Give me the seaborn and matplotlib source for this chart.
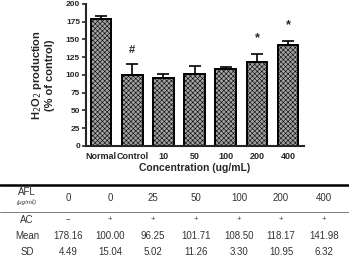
import seaborn as sns
import pandas as pd
import matplotlib.pyplot as plt

groups = ["Normal", "Control", "10", "50", "100", "200", "400"]
afl = ["0", "0", "25", "50", "100", "200", "400"]
ac = ["\u2212", "+", "+", "+", "+", "+", "+"]
mean = [178.16, 100.00, 96.25, 101.71, 108.50, 118.17, 141.98]
sd = [4.49, 15.04, 5.02, 11.26, 3.30, 10.95, 6.32]
marks = ["", "#", "", "", "", "*", "*"]

df = pd.DataFrame({"group": groups, "mean": mean, "sd": sd})

sns.set_style("ticks")
plt.rcParams["font.family"] = ["Liberation Sans", "DejaVu Sans"]
plt.rcParams["hatch.color"] = "#6e6e6e"
plt.rcParams["hatch.linewidth"] = 0.4

fig = plt.figure(figsize=(3.49, 2.57), dpi=100)
ax = fig.add_axes([0.245, 0.432, 0.625, 0.553])

sns.barplot(data=df, x="group", y="mean", color="#a2a2a2", width=0.66,
            edgecolor="black", linewidth=1.4, errorbar=None, ax=ax)
for p in ax.patches:
    p.set_hatch("xxxxxxx")
    p.set_edgecolor("black")

xs = [p.get_x() + p.get_width() / 2 for p in ax.patches]
ax.errorbar(xs, df["mean"], yerr=[[0] * len(sd), df["sd"]], fmt="none",
            ecolor="black", elinewidth=1.2, capsize=4, capthick=1.2, zorder=1)

for x, m, s, t in zip(xs, mean, sd, marks):
    if t == "#":
        ax.text(x, m + s + 20, t, ha="center", va="center", fontsize=8, fontweight="bold")
    elif t:
        ax.text(x, m + s + 22, t, ha="center", va="center", fontsize=9, fontweight="bold")

ax.set_xlim(-0.5, 6.5)
ax.set_ylim(0, 200)
ax.set_yticks(range(0, 201, 25))
sns.despine(ax=ax)
for s in ["left", "bottom"]:
    ax.spines[s].set_linewidth(1.5)
ax.tick_params(axis="y", length=3, width=1.2, labelsize=6, pad=1)
ax.tick_params(axis="x", length=0, labelsize=6.5, pad=4)
for lab in ax.get_xticklabels() + ax.get_yticklabels():
    lab.set_fontweight("bold")
ax.set_xlabel("Concentration (ug/mL)", fontsize=7.5, fontweight="bold", labelpad=2)
ax.set_ylabel("H$_2$O$_2$ production\n(% of control)", fontsize=8, fontweight="bold",
              labelpad=8, linespacing=1.1)

# table under the chart
W, H = 349.0, 257.0
cols = [68, 110, 153, 196, 239, 281, 324]
def fy(y):
    return 1 - y / H
fig.add_artist(plt.Line2D([0, 1], [fy(185), fy(185)], color="black", lw=1.8))
fig.add_artist(plt.Line2D([0, 1], [fy(212), fy(212)], color="#666666", lw=0.6))
tc = "#333333"
fs = 7
fig.text(27 / W, fy(192), "AFL", ha="center", va="center", fontsize=fs, color=tc)
fig.text(27 / W, fy(202), "(\u03bcg/m\u2113)", ha="center", va="center", fontsize=4.5,
         color=tc, style="italic")
fig.text(27 / W, fy(220), "AC", ha="center", va="center", fontsize=fs, color=tc)
fig.text(27 / W, fy(236), "Mean", ha="center", va="center", fontsize=fs, color=tc)
fig.text(27 / W, fy(252), "SD", ha="center", va="center", fontsize=fs, color=tc)
for x, a, c, m, s in zip(cols, afl, ac, mean, sd):
    fig.text(x / W, fy(198), a, ha="center", va="center", fontsize=fs, color=tc)
    fig.text(x / W, fy(220), c, ha="center", va="center", fontsize=5.5, color=tc)
    fig.text(x / W, fy(236), f"{m:.2f}", ha="center", va="center", fontsize=fs, color=tc)
    fig.text(x / W, fy(252), f"{s:.2f}", ha="center", va="center", fontsize=fs, color=tc)

fig.savefig("out.png", dpi=100)
